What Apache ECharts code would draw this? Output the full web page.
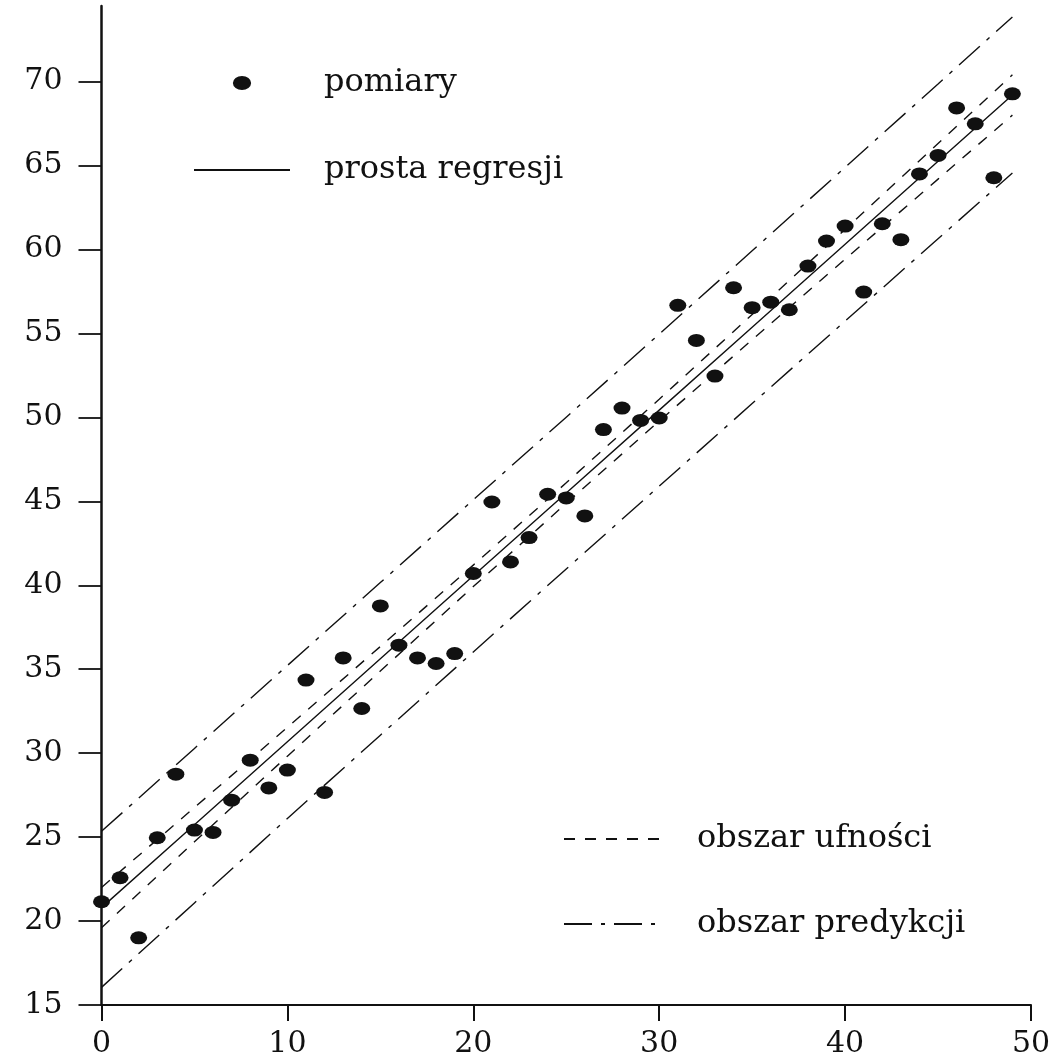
<!DOCTYPE html>
<html>
<head>
<meta charset="utf-8">
<script src="https://cdn.jsdelivr.net/npm/echarts@6/dist/echarts.min.js"></script>
<style>html,body{margin:0;padding:0;background:#fff}#c{width:1061px;height:1061px}</style>
</head>
<body>
<div id="c"></div>
<script>
// measurements (pomiary)
const measX = [0,1,2,3,4,5,6,7,8,9,10,11,12,13,14,15,16,17,18,19,20,21,22,23,24,25,26,27,28,29,30,31,32,33,34,35,36,37,38,39,40,41,42,43,44,45,46,47,48,49];
const measY = [21.15,22.58,19.0,24.96,28.75,25.42,25.28,27.2,29.58,27.93,28.99,34.35,27.66,35.67,32.66,38.77,36.43,35.67,35.34,35.93,40.7,44.96,41.39,42.84,45.42,45.2,44.13,49.27,50.55,49.82,49.96,56.67,54.58,52.46,57.72,56.53,56.86,56.41,59.01,60.5,61.39,57.46,61.53,60.58,64.5,65.6,68.43,67.48,64.27,69.27];
// lines
const lineX = [0,5,10,15,20,25,30,35,40,45,49];
const regY = [20.8,25.74,30.68,35.62,40.56,45.49,50.43,55.37,60.31,65.25,69.2];
const confUpY = [22.0,26.76,31.54,36.35,41.2,46.1,51.08,56.12,61.2,66.31,70.4];
const confLoY = [19.6,24.72,29.82,34.89,39.92,44.88,49.78,54.62,59.42,64.19,68.0];
const predUpY = [25.35,30.28,35.22,40.16,45.09,50.01,54.96,59.92,64.89,69.86,73.85];
const predLoY = [16.05,21.08,26.11,31.07,36.03,40.97,45.9,50.82,55.73,60.64,64.55];
const xTicks = [0,10,20,30,40,50];
const yTicks = [15,20,25,30,35,40,45,50,55,60,65,70];

const pair = (xs, ys) => xs.map((x, i) => [x, ys[i]]);
const ink = '#111';
const font = 'DejaVu Serif';
const dotPath = 'path://M-1.3,0A1.3,1,0,1,0,1.3,0A1.3,1,0,1,0,-1.3,0Z';
const dashConf = [11, 10];
const dashPred = [28, 9, 4, 9];

const chart = echarts.init(document.getElementById('c'), null, {renderer: 'canvas'});
const lineSeries = (name, ys, dash) => ({
  name, type: 'line', data: pair(lineX, ys), symbol: 'none', smooth: false,
  lineStyle: {color: ink, width: 1.4, type: dash},
  itemStyle: {color: 'rgba(0,0,0,0)', borderWidth: 0},
  silent: true, z: 2
});
const legendCommon = {
  orient: 'vertical', itemWidth: 96, itemHeight: 14, selectedMode: false, padding: 0,
  textStyle: {fontFamily: font, fontSize: 32, color: ink, lineHeight: 30}
};
chart.setOption({
  animation: false,
  backgroundColor: '#fff',
  grid: {left: 101.5, right: 30, top: 6, bottom: 56, containLabel: false},
  xAxis: {
    type: 'value', min: 0, max: 50, interval: 10,
    axisLine: {show: true, onZero: false, lineStyle: {color: ink, width: 2}},
    axisTick: {show: true, inside: false, length: 16, lineStyle: {color: ink, width: 2}},
    axisLabel: {margin: 24, fontFamily: font, fontSize: 30, color: ink, customValues: xTicks},
    splitLine: {show: false}
  },
  yAxis: {
    type: 'value', min: 15, max: 74.5, interval: 5,
    axisLine: {show: true, onZero: false, lineStyle: {color: ink, width: 2.5}},
    axisTick: {show: true, inside: false, length: 23, lineStyle: {color: ink, width: 1.8}, customValues: yTicks},
    axisLabel: {margin: 39, fontFamily: font, fontSize: 30, color: ink, customValues: yTicks},
    splitLine: {show: false}
  },
  legend: [
    Object.assign({}, legendCommon, {
      left: 193, top: 67, itemGap: 55,
      data: ['pomiary', 'prosta regresji'],
      textStyle: Object.assign({}, legendCommon.textStyle, {padding: [0, 0, 0, 29]})
    }),
    Object.assign({}, legendCommon, {
      left: 563, top: 823, itemGap: 53,
      data: ['obszar ufności', 'obszar predykcji'],
      textStyle: Object.assign({}, legendCommon.textStyle, {padding: [0, 0, 0, 32]})
    })
  ],
  series: [
    lineSeries('prosta regresji', regY, 'solid'),
    lineSeries('obszar ufności', confUpY, dashConf),
    lineSeries('obszar ufności', confLoY, dashConf),
    lineSeries('obszar predykcji', predUpY, dashPred),
    lineSeries('obszar predykcji', predLoY, dashPred),
    {
      name: 'pomiary', type: 'scatter', data: pair(measX, measY),
      symbol: dotPath, symbolSize: [17, 13],
      itemStyle: {color: ink, opacity: 1}, silent: true, z: 5
    }
  ]
});
</script>
</body>
</html>
